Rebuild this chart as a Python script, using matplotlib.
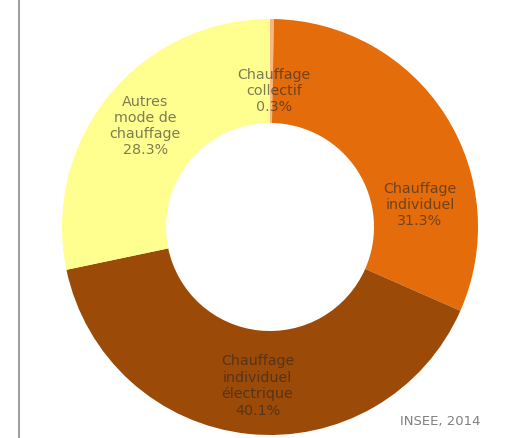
import matplotlib.pyplot as plt
from matplotlib.lines import Line2D

labels = ["Chauffage\ncollectif\n0.3%", "Chauffage\nindividuel\n31.3%",
          "Chauffage\nindividuel\nélectrique\n40.1%", "Autres\nmode de\nchauffage\n28.3%"]
values = [0.3, 31.3, 40.1, 28.3]
colors = ["#F9B880", "#E46C0A", "#9C4A07", "#FFFF8F"]
label_pos = [(0.02, 0.66), (0.72, 0.11), (-0.06, -0.76), (-0.60, 0.49)]

fig = plt.figure(figsize=(5.08, 4.39), dpi=100)
ax = fig.add_axes([62 / 508, 3 / 439, 416 / 508, 416 / 439])
ax.pie(values, colors=colors, startangle=90, counterclock=False, radius=1,
       wedgeprops=dict(width=0.5, edgecolor="none"))
ax.set_xlim(-1, 1)
ax.set_ylim(-1, 1)
ax.set_aspect("equal")
ax.axis("off")

# texte gris semi-transparent, comme dans l'original
for lab, (x, y) in zip(labels, label_pos):
    ax.text(x, y, lab, ha="center", va="center", fontsize=10.3, color="#262626",
            alpha=0.6, linespacing=1.2, family="DejaVu Sans")

fig.text(440 / 508, 1 - 422 / 439, "INSEE, 2014", ha="center", va="center",
         fontsize=9.5, color="#808080")
fig.add_artist(Line2D([19 / 508, 19 / 508], [0, 1], color="#a0a0a0", lw=1.5,
                      transform=fig.transFigure))

fig.savefig("out.png", dpi=100)
